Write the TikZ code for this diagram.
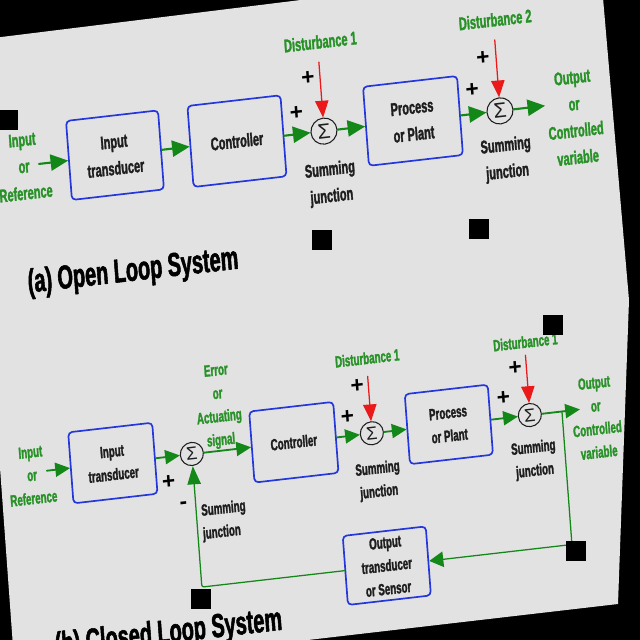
\documentclass[tikz,border=0pt]{standalone}
\usepackage{fontspec}
\setmainfont{Liberation Sans}[FakeStretch=0.6,BoldFeatures={FakeBold=1.6}]
\newfontfamily\plainsans{Liberation Sans}
\usepackage{tikz}
\usetikzlibrary{arrows.meta}
\definecolor{paper}{RGB}{226,226,226}
\definecolor{blockblue}{RGB}{35,55,220}
\definecolor{flowgreen}{RGB}{20,135,25}
\definecolor{textgreen}{RGB}{40,145,40}
\definecolor{distred}{RGB}{235,25,25}
\definecolor{inkgray}{RGB}{30,30,30}
\newcommand{\rowafont}{\fontsize{26}{38}\selectfont\bfseries}
\newcommand{\rowbfont}{\fontsize{23}{33}\selectfont\bfseries}
\newcommand{\titlefont}{\fontsize{47}{52}\selectfont\bfseries}
\tikzset{
  blockbox/.style={draw=blockblue,line width=2.4pt,rounded corners=2mm,align=center,text=inkgray,inner sep=0pt},
  sumnode/.style={circle,draw=inkgray,line width=1.5pt,inner sep=0pt,text=inkgray},
  flowa/.style={-{Triangle[length=25pt,width=23pt]},draw=flowgreen,line width=3pt},
  flowb/.style={-{Triangle[length=21pt,width=20pt]},draw=flowgreen,line width=2.6pt},
  fback/.style={draw=flowgreen,line width=1.8pt},
  distarrow/.style={-{Triangle[length=24pt,width=19pt]},draw=distred,line width=1.8pt},
  lbl/.style={text=textgreen,align=center,inner sep=0pt},
  note/.style={text=inkgray,align=center,inner sep=0pt},
  sgn/.style={text=black,inner sep=0pt,font=\plainsans\fontsize{32}{32}\selectfont\bfseries}
}
\begin{document}
\begin{tikzpicture}[line cap=round,line join=round,x=0.5mm,y=-0.5mm]
\useasboundingbox (0,0) rectangle (640,640);
\fill[black] (0,0) rectangle (640,640);
\fill[paper] (-31,41) -- (600,-37) -- (629,300) -- (618,604) -- (15,674) -- cycle;
\begin{scope}[cm={1,0.115,-0.075,1,(-24,37)},transform shape]
% (a) open loop
\node[lbl,font=\rowafont] (ina) at (38,134) {Input\\or\\Reference};
\coordinate (ina-out) at (53,133);
\node[blockbox,font=\rowafont,minimum width=46mm,minimum height=39.5mm] (ita) at (129,133) {Input\\transducer};
\node[blockbox,font=\rowafont,minimum width=46.5mm,minimum height=40.5mm] (ctla) at (251,133) {Controller};
\node[sumnode,minimum size=13mm,font=\plainsans\fontsize{30}{30}\selectfont] (suma) at (338,133) {Σ};
\node[blockbox,font=\rowafont,minimum width=47mm,minimum height=39.5mm] (proca) at (427,133) {Process\\or Plant};
\node[sumnode,minimum size=13mm,font=\plainsans\fontsize{30}{30}\selectfont] (sumb) at (514,133) {Σ};
\coordinate (outa) at (559,133);
\node[lbl,font=\rowafont] (outla) at (588,148) {Output\\or\\Controlled\\variable};
\node[lbl,font=\rowafont] (dista) at (341,44) {Disturbance 1};
\coordinate (da) at (338,64);
\node[lbl,font=\rowafont] (distb) at (516,42) {Disturbance 2};
\coordinate (db) at (514,62);
\node[sgn] (pa1) at (326,79) {+};
\node[sgn] (pa2) at (312,112) {+};
\node[sgn] (pb1) at (501,79) {+};
\node[sgn] (pb2) at (488,109) {+};
\node[note,font=\rowafont] (sja) at (341,186) {Summing\\junction};
\node[note,font=\rowafont] (sjb) at (517,182) {Summing\\junction};
\draw[flowa] (ina-out) -- (ita);
\draw[flowa] (ita) -- (ctla);
\draw[flowa] (ctla) -- (suma);
\draw[flowa] (suma) -- (proca);
\draw[flowa] (proca) -- (sumb);
\draw[flowa] (sumb) -- (outa);
\draw[distarrow] (da) -- (suma);
\draw[distarrow] (db) -- (sumb);
\node[anchor=west,text=black,inner sep=0pt,font=\titlefont] (titlea) at (33,251) {(a) Open Loop System};
% (b) closed loop
\node[lbl,font=\rowbfont] (inb) at (23,441) {Input\\or\\Reference};
\coordinate (inb-out) at (38,438);
\node[blockbox,font=\rowbfont,minimum width=42mm,minimum height=35.5mm] (itb) at (104,438) {Input\\transducer};
\node[sumnode,minimum size=11.5mm,font=\plainsans\fontsize{26}{26}\selectfont] (sumc) at (183,438) {Σ};
\node[lbl,font=\rowbfont] (errl) at (213,394) {Error\\or\\Actuating\\signal};
\node[blockbox,font=\rowbfont,minimum width=42mm,minimum height=35.5mm] (ctlb) at (285,438) {Controller};
\node[sumnode,minimum size=11.5mm,font=\plainsans\fontsize{26}{26}\selectfont] (sumd) at (363,438) {Σ};
\node[blockbox,font=\rowbfont,minimum width=41.5mm,minimum height=35mm] (procb) at (440,438) {Process\\or Plant};
\node[sumnode,minimum size=11.5mm,font=\plainsans\fontsize{26}{26}\selectfont] (sume) at (521,438) {Σ};
\coordinate (outb) at (571,438);
\coordinate (brb) at (553,438);
\node[lbl,font=\rowbfont] (outlb) at (587,448) {Output\\or\\Controlled\\variable};
\node[lbl,font=\rowbfont] (distc) at (364,363) {Disturbance 1};
\coordinate (dc) at (363,381);
\node[lbl,font=\rowbfont] (distd) at (522,365) {Disturbance 1};
\coordinate (dd) at (521,378);
\node[sgn] (pc1) at (158,463) {+};
\node[sgn] (pc2) at (171,488) {-};
\node[sgn] (pd1) at (352,390) {+};
\node[sgn] (pd2) at (340,419) {+};
\node[sgn] (pe1) at (510,390) {+};
\node[sgn] (pe2) at (496,418) {+};
\node[note,font=\rowbfont,anchor=west,align=left] (sjc) at (188,508) {Summing\\junction};
\node[note,font=\rowbfont] (sjd) at (366,486) {Summing\\junction};
\node[note,font=\rowbfont] (sje) at (522,483) {Summing\\junction};
\node[blockbox,font=\rowbfont,minimum width=41.5mm,minimum height=34.5mm] (otb) at (368,571) {Output\\transducer\\or Sensor};
\coordinate (fbr) at (553,571);
\coordinate (fbl) at (183,571);
\draw[flowb] (inb-out) -- (itb);
\draw[flowb] (itb) -- (sumc);
\draw[flowb] (sumc) -- (ctlb);
\draw[flowb] (ctlb) -- (sumd);
\draw[flowb] (sumd) -- (procb);
\draw[flowb] (procb) -- (sume);
\draw[flowb] (sume) -- (outb);
\draw[distarrow] (dc) -- (sumd);
\draw[distarrow] (dd) -- (sume);
\draw[fback,-{Triangle[length=20pt,width=22pt]}] (brb) -- (fbr) -- (otb);
\draw[fback,rounded corners=3pt,-{Triangle[length=26pt,width=19pt]}] (otb) -- (fbl) -- (sumc);
\node[anchor=west,text=black,inner sep=0pt,font=\titlefont] (titleb) at (33,614) {(b) Closed Loop System};
\end{scope}
%\draw[red] (0,0) grid[step=40] (640,640);
\foreach \sx/\sy in {-2/110,312/230,469/219,543/315,566/541,191/589}
\fill[black] (\sx,\sy) rectangle ++(20,20);
\end{tikzpicture}
\end{document}
